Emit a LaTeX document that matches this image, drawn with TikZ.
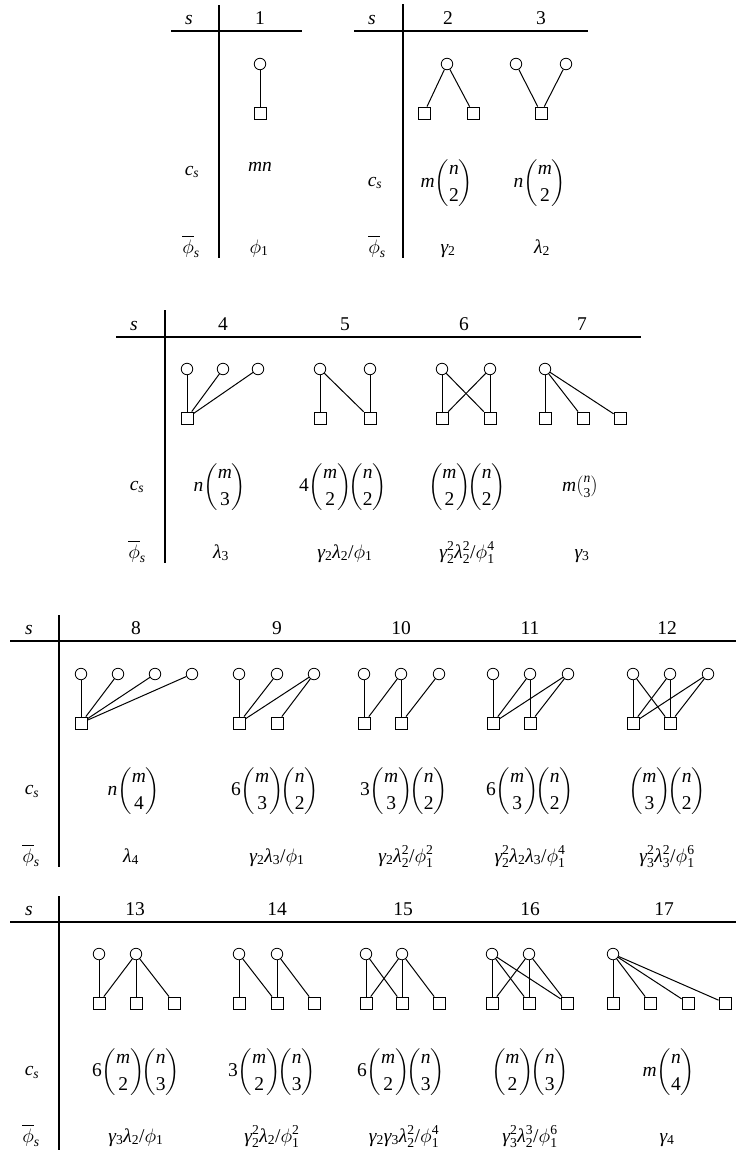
\documentclass[tikz,border=0pt]{standalone}
\usepackage{amsmath}
\usepackage{fontspec}
\setmainfont{Liberation Serif}
\DeclareFontShape{OML}{cmm}{m}{it}{<->cmmi10}{}
\DeclareFontShape{OMS}{cmsy}{m}{n}{<->cmsy10}{}
\DeclareFontShape{OMX}{cmex}{m}{n}{<->cmex10}{}
\newfontfamily\tnrfamily[NFSSFamily=tnr]{Liberation Serif}
\DeclareSymbolFont{tletters}{TU}{tnr}{m}{it}
\DeclareSymbolFont{tdigits}{TU}{tnr}{m}{n}
\newcommand\setmyumath{%
\count255=97
\loop
\Umathcode\count255=7 \symtletters \count255
\advance\count255 by 1
\ifnum\count255<123 \repeat
\count255=48
\loop
\Umathcode\count255=0 \symtdigits \count255
\advance\count255 by 1
\ifnum\count255<58 \repeat
\Umathchardef\gamma=0 \symtletters "03B3
\Umathchardef\lambda=0 \symtletters "03BB
\Umathcode`/=0 \symtdigits `/
}
\setmyumath
\AtBeginDocument{\setmyumath}
\newcommand\bn[2]{\binom{#1}{#2}}
\tikzset{
 ci/.style={circle,draw,line width=0.8pt,inner sep=0pt,minimum size=11.5pt},
 sq/.style={rectangle,draw,line width=0.8pt,inner sep=0pt,minimum size=12pt},
 edge/.style={line width=1pt},
 rulel/.style={line width=1.5pt},
 lbl/.style={inner sep=0pt,anchor=base},
 mid/.style={inner sep=0pt,anchor=center},
}
\begin{document}
\begin{tikzpicture}[x=1pt,y=-1pt,font=\fontsize{19.5}{23}\selectfont]
\useasboundingbox (0,0) rectangle (736,1154);
% ---------- Table A ----------
\draw[rulel] (219,5) -- (219,258);
\draw[rulel] (171,31) -- (302,31);
\node[lbl] (As) at (189,24) {$s$};
\node[lbl] (A1) at (260,24) {1};
\node[ci] (g1t1) at (260,64) {};
\node[sq] (g1b1) at (260,113) {};
\draw[edge] (g1t1) -- (g1b1);
\node[mid] (Ac) at (192,172) {$c_s$};
\node[mid] (Ac1) at (260,167) {$mn$};
\node[lbl] (Ap) at (191,253) {$\overline{\phi}_s$};
\node[lbl] (Ap1) at (259,253) {$\phi_1$};
% ---------- Table B ----------
\draw[rulel] (403,4) -- (403,258);
\draw[rulel] (354,31) -- (588,31);
\node[lbl] (Bs) at (372,24) {$s$};
\node[lbl] (B2) at (448,24) {2};
\node[lbl] (B3) at (541,24) {3};
\node[ci] (g2t1) at (447,64) {};
\node[sq] (g2b1) at (424,113) {};
\node[sq] (g2b2) at (473,113) {};
\draw[edge] (g2t1) -- (g2b1);
\draw[edge] (g2t1) -- (g2b2);
\node[ci] (g3t1) at (516,64) {};
\node[ci] (g3t2) at (566,64) {};
\node[sq] (g3b1) at (541,113) {};
\draw[edge] (g3t1) -- (g3b1);
\draw[edge] (g3t2) -- (g3b1);
\node[mid] (Bc) at (375,183) {$c_s$};
\node[mid] (Bc2) at (447,183) {$\displaystyle m\bn{n}{2}$};
\node[mid] (Bc3) at (540,183) {$\displaystyle n\bn{m}{2}$};
\node[lbl] (Bp) at (377,253) {$\overline{\phi}_s$};
\node[lbl] (Bp2) at (448,253) {$\gamma_2$};
\node[lbl] (Bp3) at (542,253) {$\lambda_2$};
% ---------- Table C ----------
\draw[rulel] (165,310) -- (165,563);
\draw[rulel] (116,337) -- (641,337);
\node[lbl] (Cs) at (134,330) {$s$};
\node[lbl] (C4) at (223,330) {4};
\node[lbl] (C5) at (345,330) {5};
\node[lbl] (C6) at (464,330) {6};
\node[lbl] (C7) at (582,330) {7};
\foreach \n/\x in {1/187,2/223,3/258} \node[ci] (g4t\n) at (\x,369) {};
\node[sq] (g4b1) at (187,418) {};
\foreach \a in {1,2,3} \draw[edge] (g4t\a) -- (g4b1);
\foreach \n/\x in {1/320,2/370} {\node[ci] (g5t\n) at (\x,369) {}; \node[sq] (g5b\n) at (\x,418) {};}
\foreach \a/\b in {1/1,1/2,2/2} \draw[edge] (g5t\a) -- (g5b\b);
\foreach \n/\x in {1/442,2/490} {\node[ci] (g6t\n) at (\x,369) {}; \node[sq] (g6b\n) at (\x,418) {};}
\foreach \a/\b in {1/1,1/2,2/1,2/2} \draw[edge] (g6t\a) -- (g6b\b);
\node[ci] (g7t1) at (545,369) {};
\foreach \n/\x in {1/545,2/583,3/620} \node[sq] (g7b\n) at (\x,418) {};
\foreach \b in {1,2,3} \draw[edge] (g7t1) -- (g7b\b);
\node[mid] (Cc) at (137,487) {$c_s$};
\node[mid] (Cc4) at (220,487) {$\displaystyle n\bn{m}{3}$};
\node[mid] (Cc5) at (343,487) {$\displaystyle 4\bn{m}{2}\!\bn{n}{2}$};
\node[mid] (Cc6) at (467,487) {$\displaystyle \bn{m}{2}\!\bn{n}{2}$};
\node[mid] (Cc7) at (580,487) {$m\tbinom{n}{3}$};
\node[lbl] (Cp) at (137,558) {$\overline{\phi}_s$};
\node[lbl] (Cp4) at (221,558) {$\lambda_3$};
\node[lbl] (Cp5) at (345,558) {$\gamma_2\lambda_2/\phi_1$};
\node[lbl] (Cp6) at (467,558) {$\gamma_2^2\lambda_2^2/\phi_1^4$};
\node[lbl] (Cp7) at (582,558) {$\gamma_3$};
% ---------- Table D ----------
\draw[rulel] (59,615) -- (59,867);
\draw[rulel] (10,641) -- (736,641);
\node[lbl] (Ds) at (29,634) {$s$};
\node[lbl] (D8) at (136,634) {8};
\node[lbl] (D9) at (277,634) {9};
\node[lbl] (D10) at (401,634) {10};
\node[lbl] (D11) at (530,634) {11};
\node[lbl] (D12) at (667,634) {12};
% graph 8
\foreach \n/\x in {1/81,2/118,3/155,4/192} \node[ci] (g8t\n) at (\x,674) {};
\node[sq] (g8b1) at (81,723) {};
\foreach \a in {1,2,3,4} \draw[edge] (g8t\a) -- (g8b1);
% graph 9
\foreach \n/\x in {1/239,2/277,3/314} \node[ci] (g9t\n) at (\x,674) {};
\foreach \n/\x in {1/239,2/277} \node[sq] (g9b\n) at (\x,723) {};
\foreach \a/\b in {1/1,2/1,3/1,3/2} \draw[edge] (g9t\a) -- (g9b\b);
% graph 10
\foreach \n/\x in {1/364,2/401,3/439} \node[ci] (g10t\n) at (\x,674) {};
\foreach \n/\x in {1/364,2/401} \node[sq] (g10b\n) at (\x,723) {};
\foreach \a/\b in {1/1,2/1,2/2,3/2} \draw[edge] (g10t\a) -- (g10b\b);
% graph 11
\foreach \n/\x in {1/493,2/530,3/568} \node[ci] (g11t\n) at (\x,674) {};
\foreach \n/\x in {1/493,2/530} \node[sq] (g11b\n) at (\x,723) {};
\foreach \a/\b in {1/1,2/1,2/2,3/1,3/2} \draw[edge] (g11t\a) -- (g11b\b);
% graph 12
\foreach \n/\x in {1/633,2/670,3/708} \node[ci] (g12t\n) at (\x,674) {};
\foreach \n/\x in {1/633,2/670} \node[sq] (g12b\n) at (\x,723) {};
\foreach \a/\b in {1/1,1/2,2/1,2/2,3/1,3/2} \draw[edge] (g12t\a) -- (g12b\b);
\node[mid] (Dc) at (32,791) {$c_s$};
\node[mid] (Dc8) at (134,791) {$\displaystyle n\bn{m}{4}$};
\node[mid] (Dc9) at (275,791) {$\displaystyle 6\bn{m}{3}\!\bn{n}{2}$};
\node[mid] (Dc10) at (404,791) {$\displaystyle 3\bn{m}{3}\!\bn{n}{2}$};
\node[mid] (Dc11) at (530,791) {$\displaystyle 6\bn{m}{3}\!\bn{n}{2}$};
\node[mid] (Dc12) at (667,791) {$\displaystyle \bn{m}{3}\!\bn{n}{2}$};
\node[lbl] (Dp) at (31,862) {$\overline{\phi}_s$};
\node[lbl] (Dp8) at (131,862) {$\lambda_4$};
\node[lbl] (Dp9) at (277,862) {$\gamma_2\lambda_3/\phi_1$};
\node[lbl] (Dp10) at (406,862) {$\gamma_2\lambda_2^2/\phi_1^2$};
\node[lbl] (Dp11) at (530,862) {$\gamma_2^2\lambda_2\lambda_3/\phi_1^4$};
\node[lbl] (Dp12) at (667,862) {$\gamma_3^2\lambda_3^2/\phi_1^6$};
% ---------- Table E ----------
\draw[rulel] (59,896) -- (59,1150);
\draw[rulel] (10,922) -- (736,922);
\node[lbl] (Es) at (29,915) {$s$};
\node[lbl] (E13) at (135,915) {13};
\node[lbl] (E14) at (277,915) {14};
\node[lbl] (E15) at (403,915) {15};
\node[lbl] (E16) at (530,915) {16};
\node[lbl] (E17) at (664,915) {17};
% graph 13
\foreach \n/\x in {1/99,2/136} \node[ci] (g13t\n) at (\x,954) {};
\foreach \n/\x in {1/99,2/136,3/174} \node[sq] (g13b\n) at (\x,1003) {};
\foreach \a/\b in {1/1,2/1,2/2,2/3} \draw[edge] (g13t\a) -- (g13b\b);
% graph 14
\foreach \n/\x in {1/239,2/277} \node[ci] (g14t\n) at (\x,954) {};
\foreach \n/\x in {1/239,2/277,3/314} \node[sq] (g14b\n) at (\x,1003) {};
\foreach \a/\b in {1/1,1/2,2/2,2/3} \draw[edge] (g14t\a) -- (g14b\b);
% graph 15
\foreach \n/\x in {1/366,2/402} \node[ci] (g15t\n) at (\x,954) {};
\foreach \n/\x in {1/366,2/402,3/439} \node[sq] (g15b\n) at (\x,1003) {};
\foreach \a/\b in {1/1,1/2,2/1,2/2,2/3} \draw[edge] (g15t\a) -- (g15b\b);
% graph 16
\foreach \n/\x in {1/492,2/529} \node[ci] (g16t\n) at (\x,954) {};
\foreach \n/\x in {1/492,2/529,3/567} \node[sq] (g16b\n) at (\x,1003) {};
\foreach \a/\b in {1/1,1/2,1/3,2/1,2/2,2/3} \draw[edge] (g16t\a) -- (g16b\b);
% graph 17
\node[ci] (g17t1) at (613,954) {};
\foreach \n/\x in {1/613,2/650,3/688,4/725} \node[sq] (g17b\n) at (\x,1003) {};
\foreach \b in {1,2,3,4} \draw[edge] (g17t1) -- (g17b\b);
\node[mid] (Ec) at (32,1072) {$c_s$};
\node[mid] (Ec13) at (136,1072) {$\displaystyle 6\bn{m}{2}\!\bn{n}{3}$};
\node[mid] (Ec14) at (272,1072) {$\displaystyle 3\bn{m}{2}\!\bn{n}{3}$};
\node[mid] (Ec15) at (401,1072) {$\displaystyle 6\bn{m}{2}\!\bn{n}{3}$};
\node[mid] (Ec16) at (530,1072) {$\displaystyle \bn{m}{2}\!\bn{n}{3}$};
\node[mid] (Ec17) at (669,1072) {$\displaystyle m\bn{n}{4}$};
\node[lbl] (Ep) at (31,1142) {$\overline{\phi}_s$};
\node[lbl] (Ep13) at (136,1142) {$\gamma_3\lambda_2/\phi_1$};
\node[lbl] (Ep14) at (272,1142) {$\gamma_2^2\lambda_2/\phi_1^2$};
\node[lbl] (Ep15) at (404,1142) {$\gamma_2\gamma_3\lambda_2^2/\phi_1^4$};
\node[lbl] (Ep16) at (530,1142) {$\gamma_3^2\lambda_2^3/\phi_1^6$};
\node[lbl] (Ep17) at (667,1142) {$\gamma_4$};
\end{tikzpicture}
\end{document}
